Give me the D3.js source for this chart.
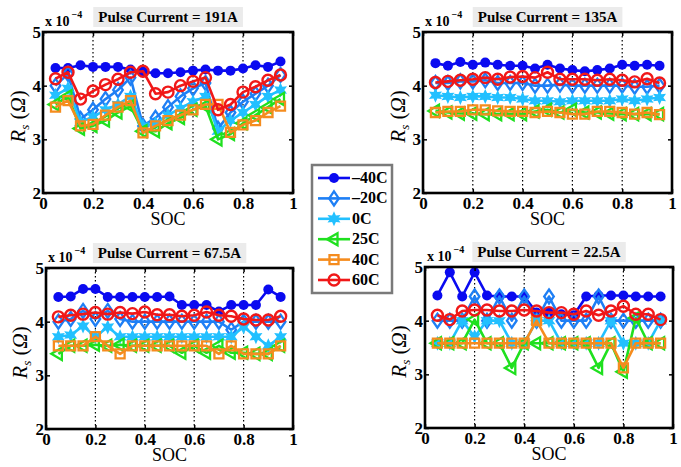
<!DOCTYPE html>
<html><head><meta charset="utf-8">
<script src="https://cdn.jsdelivr.net/npm/d3@7"></script>
<style>body{margin:0;background:#fff}svg{display:block}svg text{font-family:"Liberation Serif","DejaVu Serif",serif}</style>
</head><body>
<svg id="c" width="681" height="467"></svg>
<script>
// ---------- data ----------
const soc = [0.05,0.10,0.15,0.20,0.25,0.30,0.35,0.40,0.45,0.50,0.55,0.60,0.65,0.70,0.75,0.80,0.85,0.90,0.95];
const temps = ["\u201340C","\u201320C","0C","25C","40C","60C"];
const xTicks = [0,0.2,0.4,0.6,0.8,1];
const yTicks = [2,3,4,5];
const titles = ["Pulse Current = 191A","Pulse Current = 135A","Pulse Current = 67.5A","Pulse Current = 22.5A"];

// Rs x 1e-4, 191A
const a191_m40 = [4.33,4.33,4.38,4.35,4.35,4.35,4.30,4.26,4.23,4.23,4.25,4.28,4.30,4.28,4.28,4.32,4.38,4.35,4.45];
const a191_m20 = [4.00,4.22,3.38,3.55,3.75,3.92,4.15,3.25,3.40,3.60,3.80,3.95,4.05,3.20,3.50,3.70,3.85,4.00,4.20];
const a191_0   = [3.82,3.95,3.32,3.42,3.55,3.65,3.80,3.25,3.30,3.45,3.58,3.70,3.80,3.15,3.35,3.50,3.65,3.80,3.92];
const a191_25  = [3.65,3.80,3.20,3.25,3.35,3.50,3.62,3.15,3.15,3.30,3.40,3.55,3.62,3.00,3.10,3.30,3.45,3.60,3.75];
const a191_40  = [3.60,3.72,3.25,3.28,3.45,3.60,3.72,3.12,3.25,3.35,3.45,3.55,3.65,3.65,3.13,3.27,3.35,3.50,3.62];
const a191_60  = [4.13,4.25,3.75,3.90,4.02,4.12,4.25,4.27,3.85,3.88,4.00,4.08,4.15,3.55,3.65,3.88,3.98,4.10,4.20];
// 135A
const a135_m40 = [4.42,4.37,4.44,4.39,4.43,4.39,4.37,4.37,4.32,4.39,4.32,4.29,4.27,4.29,4.32,4.39,4.37,4.39,4.37];
const a135_m20 = [4.05,4.05,4.08,4.08,4.10,4.05,4.05,4.05,4.00,4.00,4.02,4.00,4.00,4.00,4.00,4.00,3.98,3.98,4.00];
const a135_0   = [3.82,3.80,3.78,3.80,3.80,3.78,3.78,3.75,3.72,3.72,3.70,3.72,3.72,3.72,3.72,3.75,3.72,3.75,3.78];
const a135_25  = [3.53,3.50,3.48,3.48,3.47,3.47,3.47,3.47,3.52,3.55,3.50,3.55,3.50,3.50,3.48,3.47,3.47,3.47,3.47];
const a135_40  = [3.50,3.52,3.52,3.55,3.55,3.53,3.52,3.52,3.50,3.52,3.50,3.47,3.47,3.52,3.52,3.50,3.47,3.50,3.46];
const a135_60  = [4.06,4.08,4.10,4.12,4.15,4.12,4.16,4.17,4.15,4.25,4.12,4.12,4.12,4.10,4.12,4.10,4.07,4.13,4.05];
// 67.5A
const a67_m40 = [4.46,4.47,4.61,4.61,4.46,4.46,4.46,4.46,4.46,4.47,4.31,4.31,4.31,4.19,4.31,4.31,4.31,4.60,4.46];
const a67_m20 = [4.00,4.05,4.20,4.05,4.20,4.05,4.00,4.00,4.00,4.00,4.00,4.00,4.00,4.00,3.85,4.00,4.00,4.00,4.00];
const a67_0   = [3.72,3.75,3.92,3.72,3.90,3.72,3.72,3.72,3.72,3.72,3.72,3.72,3.72,3.72,3.72,3.90,3.72,3.55,3.72];
const a67_25  = [3.40,3.55,3.55,3.57,3.55,3.57,3.55,3.55,3.55,3.55,3.42,3.55,3.42,3.55,3.42,3.42,3.40,3.40,3.55];
const a67_40  = [3.55,3.55,3.55,3.72,3.55,3.40,3.55,3.55,3.55,3.55,3.55,3.55,3.55,3.40,3.55,3.40,3.40,3.40,3.55];
const a67_60  = [4.09,4.12,4.14,4.17,4.14,4.17,4.15,4.18,4.13,4.13,4.10,4.12,4.18,4.12,4.10,4.05,4.03,4.03,4.10];
// 22.5A
const a22_m40 = [4.47,4.90,4.45,4.90,4.47,4.45,4.45,4.45,4.15,4.15,4.12,4.10,4.45,4.47,4.47,4.47,4.45,4.45,4.45];
const a22_m20 = [4.00,4.00,4.00,4.45,4.00,4.45,4.00,4.45,4.00,4.45,4.00,4.00,4.00,4.45,4.00,4.00,4.00,4.00,4.00];
const a22_0   = [3.58,3.58,4.00,3.70,4.00,4.00,3.58,3.58,4.00,4.00,3.58,3.58,3.58,3.58,4.00,3.58,3.58,3.58,4.00];
const a22_25  = [3.58,3.58,3.58,4.02,3.58,3.58,3.12,3.58,3.58,3.58,3.58,3.58,3.58,3.12,3.58,3.05,4.05,3.58,3.58];
const a22_40  = [3.58,3.58,3.58,3.58,3.58,3.58,3.58,3.58,4.00,3.58,3.58,3.58,3.58,3.58,3.58,3.12,3.58,3.58,3.58];
const a22_60  = [4.10,4.02,4.18,4.20,4.20,4.18,4.18,4.20,4.18,4.15,4.15,4.12,4.18,4.10,4.18,4.27,4.12,4.12,4.02];

const colors = ["#0a0af0","#1e7ff5","#22c0ff","#1fe01f","#f58c1e","#f01818"];
const markers = ["dot","diamond","star","tri","square","ring"];

const panelsData = [
  [a191_m40,a191_m20,a191_0,a191_25,a191_40,a191_60],
  [a135_m40,a135_m20,a135_0,a135_25,a135_40,a135_60],
  [a67_m40,a67_m20,a67_0,a67_25,a67_40,a67_60],
  [a22_m40,a22_m20,a22_0,a22_25,a22_40,a22_60]
];
const frames = [
  {x0:43,x1:293,y0:32,y1:193,lx:25},
  {x0:423,x1:672,y0:32,y1:193,lx:405},
  {x0:46,x1:293,y0:268,y1:429,lx:27},
  {x0:425,x1:673,y0:267,y1:428,lx:406}
];

const svg = d3.select("#c");
const SERIF = "\"Liberation Serif\", \"DejaVu Serif\", serif";

function markerPath(type){
  const p = d3.path();
  if(type==="diamond"){ p.moveTo(0,-7);p.lineTo(4.8,0);p.lineTo(0,7);p.lineTo(-4.8,0);p.closePath(); }
  else if(type==="tri"){ const r=7; p.moveTo(-r,0);p.lineTo(r/2,-r*0.866);p.lineTo(r/2,r*0.866);p.closePath(); }
  else if(type==="square"){ p.rect(-4.5,-4.5,9,9); }
  else if(type==="star"){
    for(let i=0;i<12;i++){ const a=(i*30-90)*Math.PI/180, r=(i%2===0)?7.5:3.8;
      const px=r*Math.cos(a), py=r*Math.sin(a); if(i===0)p.moveTo(px,py); else p.lineTo(px,py);} p.closePath();
  }
  return p.toString();
}
function drawMarker(g, type, color, x, y){
  if(type==="dot") g.append("circle").attr("cx",x).attr("cy",y).attr("r",5).attr("fill",color);
  else if(type==="ring") g.append("circle").attr("cx",x).attr("cy",y).attr("r",5.5).attr("fill","none").attr("stroke",color).attr("stroke-width",2.4);
  else if(type==="star") g.append("path").attr("d",markerPath(type)).attr("transform",`translate(${x},${y})`).attr("fill",color);
  else g.append("path").attr("d",markerPath(type)).attr("transform",`translate(${x},${y})`).attr("fill","none").attr("stroke",color).attr("stroke-width",2.3);
}
function serif(sel){ return sel.style("font-family",SERIF); }

frames.forEach((f,pi)=>{
  const x = d3.scaleLinear().domain([0,1]).range([f.x0,f.x1]);
  const y = d3.scaleLinear().domain([2,5]).range([f.y1,f.y0]);
  const g = svg.append("g");
  g.selectAll("line.grid").data([0.2,0.4,0.6,0.8]).enter().append("line")
    .attr("x1",d=>x(d)).attr("x2",d=>x(d)).attr("y1",f.y0).attr("y2",f.y1)
    .attr("stroke","#000").attr("stroke-width",1.2).attr("stroke-dasharray","1.5,2.5");
  panelsData[pi].forEach((vals,si)=>{
    const line = d3.line().x((d,i)=>x(soc[i])).y(d=>y(d));
    g.append("path").datum(vals).attr("d",line).attr("fill","none")
      .attr("stroke",colors[si]).attr("stroke-width",2.6).attr("stroke-linejoin","round");
    vals.forEach((v,i)=>drawMarker(g,markers[si],colors[si],x(soc[i]),y(v)));
  });
  const xa = g.append("g").attr("transform",`translate(0,${f.y1})`)
    .call(d3.axisBottom(x).tickValues(xTicks).tickSize(-4).tickPadding(4).tickFormat(d=>d===0?"0":d===1?"1":d.toFixed(1)));
  const ya = g.append("g").attr("transform",`translate(${f.x0},0)`)
    .call(d3.axisLeft(y).tickValues(yTicks).tickSize(-4).tickPadding(2).tickFormat(d3.format("d")));
  const yr = g.append("g").attr("transform",`translate(${f.x1},0)`)
    .call(d3.axisRight(y).tickValues(yTicks).tickSize(-4).tickFormat(""));
  const xt = g.append("g").attr("transform",`translate(0,${f.y0})`)
    .call(d3.axisTop(x).tickValues(xTicks).tickSize(-4).tickFormat(""));
  [xa,ya,yr,xt].forEach(a=>{ a.attr("font-family",null).attr("font-size",null);
    a.select(".domain").remove(); a.selectAll("line").attr("stroke","#000").attr("stroke-width",1.5);
    serif(a.selectAll("text")).style("font-weight","bold").style("font-size","17px").attr("fill","#000"); });
  g.append("rect").attr("x",f.x0).attr("y",f.y0).attr("width",f.x1-f.x0).attr("height",f.y1-f.y0)
    .attr("fill","none").attr("stroke","#000").attr("stroke-width",2.6);
  serif(g.append("text").attr("x",(f.x0+f.x1)/2).attr("y",f.y1+32).attr("text-anchor","middle"))
    .style("font-size","18px").text("SOC");
  const yl = serif(g.append("text").attr("transform",`translate(${f.lx},${(f.y0+f.y1)/2+4}) rotate(-90)`)
    .attr("text-anchor","middle")).style("font-size","21px");
  yl.append("tspan").style("font-style","italic").text("R");
  yl.append("tspan").style("font-style","italic").style("font-size","13px").attr("dy",4).text("s");
  yl.append("tspan").attr("dy",-4).text(" (");
  yl.append("tspan").style("font-style","italic").text("\u03A9");
  yl.append("tspan").text(")");
  const ex = serif(g.append("text").attr("x",f.x0+2).attr("y",f.y0-6)).style("font-weight","bold").style("font-size","14px");
  ex.append("tspan").text("x 10");
  ex.append("tspan").attr("dy",-8).attr("dx",2).style("font-size","10px").text("\u22124");
  const cx=(f.x0+f.x1)/2;
  const tt = serif(g.append("text").attr("x",cx).attr("y",f.y0-10).attr("text-anchor","middle"))
    .style("font-weight","bold").style("font-size","15px").text(titles[pi]);
  const bb = tt.node().getBBox();
  g.insert("rect",()=>tt.node()).attr("x",bb.x-5).attr("y",f.y0-25).attr("width",bb.width+10).attr("height",20).attr("fill","#ebebeb");
});

const lg = svg.append("g");
lg.append("rect").attr("x",312).attr("y",165).attr("width",80).attr("height",128)
  .attr("fill","#fff").attr("stroke","#7a7a7a").attr("stroke-width",2.5);
const ly = d3.scaleLinear().domain([0,5]).range([178,280]);
temps.forEach((t,i)=>{
  lg.append("line").attr("x1",318).attr("x2",350).attr("y1",ly(i)).attr("y2",ly(i)).attr("stroke",colors[i]).attr("stroke-width",2.6);
  drawMarker(lg,markers[i],colors[i],334,ly(i));
  serif(lg.append("text").attr("x",352).attr("y",ly(i)+5)).style("font-weight","bold").style("font-size","16px").text(t);
});
</script>
</body></html>
